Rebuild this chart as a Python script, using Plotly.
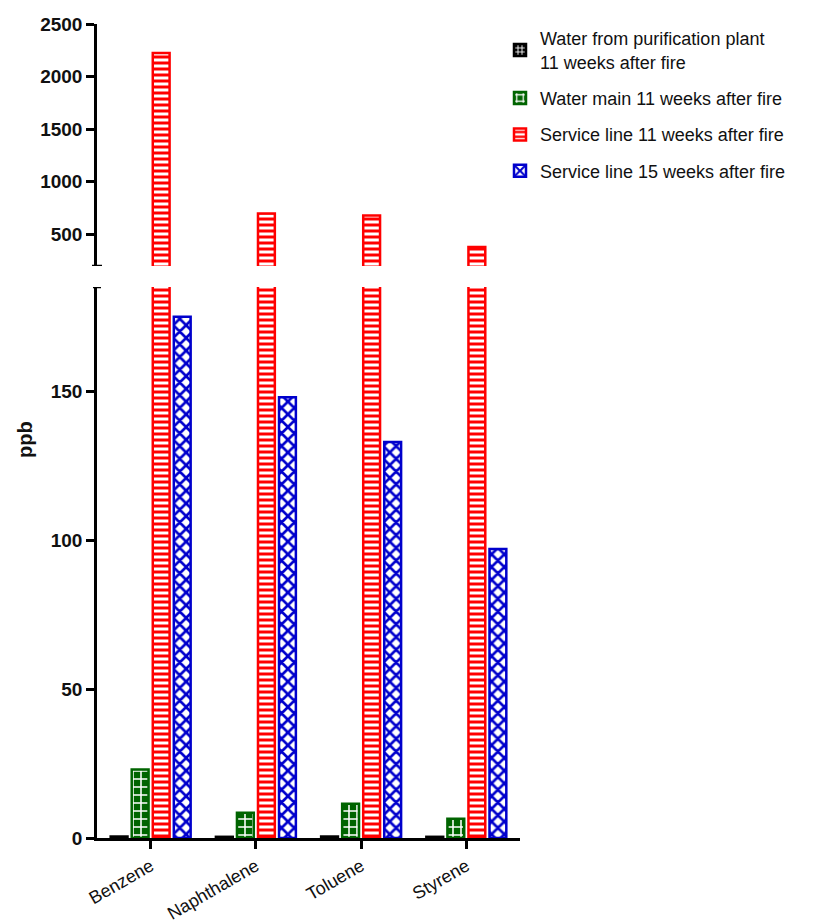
import plotly.graph_objects as go

categories = ["Benzene", "Naphthalene", "Toluene", "Styrene"]
plant_11wk = [0.5, 0.4, 0.5, 0.4]
main_11wk = [23, 8.5, 11.5, 6.5]
service_11wk = [2225, 700, 680, 380]
service_15wk = [175, 148, 133, 97]

series_names = [
    "Water from purification plant<br>11 weeks after fire",
    "Water main 11 weeks after fire",
    "Service line 11 weeks after fire",
    "Service line 15 weeks after fire",
]
series_values = [plant_11wk, main_11wk, service_11wk, service_15wk]

styles = [
    dict(line="#000000", fg="#ffffff", bg="#000000", shape="+", size=5, sol=0.4),
    dict(line="#006400", fg="#ffffff", bg="#006400", shape="+", size=8, sol=0.35),
    dict(line="#ff0000", fg="#ff0000", bg="#ffffff", shape="-", size=6, sol=0.5),
    dict(line="#0000cc", fg="#0000cc", bg="#ffffff", shape="x", size=9, sol=0.5),
]

fig = go.Figure()
for i, (name, vals, st) in enumerate(zip(series_names, series_values, styles)):
    for ax, show in (("", True), ("2", False)):
        fig.add_trace(go.Bar(
            x=categories, y=vals, name=name, showlegend=show,
            legendgroup=f"g{i}",
            xaxis="x" + ax, yaxis="y" + ax,
            marker=dict(
                color=st["bg"],
                line=dict(color=st["line"], width=2.5),
                pattern=dict(shape=st["shape"], fgcolor=st["fg"], bgcolor=st["bg"],
                             fillmode="replace", size=st["size"], solidity=st["sol"]),
            ),
        ))

# page has an 8px body margin, so work in figure pixels = page pixels - 8
W, H = 808, 916
L, R, T, B = 89, 296, 16, 86
ph = H - T - B
pw = W - L - R
y0_fig = H - B  # pixel row of value 0
top_lo = (y0_fig - (266 - 8)) / ph
bot_hi = (y0_fig - (287 - 8)) / ph

axis_font = dict(family="Liberation Sans, Arial, sans-serif", size=19, color="#111", weight="bold")

fig.update_layout(
    width=W, height=H,
    margin=dict(l=L, r=R, t=T, b=B, autoexpand=False),
    paper_bgcolor="white", plot_bgcolor="white",
    barmode="group", bargap=0.2, bargroupgap=0.2,
    font=dict(family="Liberation Sans, Arial, sans-serif", size=18, color="#111"),
    xaxis=dict(
        domain=[0, 1], anchor="y", range=[-0.51, 3.51], automargin=False,
        showline=True, linecolor="black", linewidth=2.5,
        ticks="outside", ticklen=8, tickwidth=2.5, tickcolor="black",
        tickangle=-30, tickfont=dict(size=18, color="#111"),
        showgrid=False, zeroline=False,
    ),
    yaxis=dict(
        domain=[0, bot_hi], anchor="x", range=[0, 185], automargin=False,
        tickvals=[0, 50, 100, 150],
        showline=True, linecolor="black", linewidth=2.5,
        ticks="outside", ticklen=8, tickwidth=2.5, tickcolor="black",
        tickfont=axis_font, showgrid=False, zeroline=False,
    ),
    xaxis2=dict(
        domain=[0, 1], anchor="y2", range=[-0.51, 3.51], automargin=False,
        showline=False, showticklabels=False, ticks="", showgrid=False, zeroline=False,
    ),
    yaxis2=dict(
        domain=[top_lo, 1], anchor="x2", range=[200, 2500], automargin=False,
        tickvals=[500, 1000, 1500, 2000, 2500],
        showline=True, linecolor="black", linewidth=2.5,
        ticks="outside", ticklen=8, tickwidth=2.5, tickcolor="black",
        tickfont=axis_font, showgrid=False, zeroline=False,
    ),
    legend=dict(
        x=(492 - L) / pw, y=(y0_fig - 12) / ph, xanchor="left", yanchor="top",
        font=dict(size=18, color="#111"), tracegroupgap=10,
        bgcolor="rgba(0,0,0,0)",
    ),
    annotations=[dict(
        text="<b>ppb</b>", textangle=-90, xref="paper", yref="paper",
        x=(17 - L) / pw, y=(y0_fig - 432) / ph, showarrow=False,
        xanchor="center", yanchor="middle",
        font=dict(size=20, color="#111"),
    )],
    shapes=[
        dict(type="line", xref="paper", yref="y2", x0=-5 / pw, x1=5 / pw, y0=200, y1=200,
             line=dict(color="black", width=2.5)),
        dict(type="line", xref="paper", yref="y", x0=-4 / pw, x1=4 / pw, y0=185, y1=185,
             line=dict(color="black", width=2.5)),
    ],
)

fig.write_html("out.html")
